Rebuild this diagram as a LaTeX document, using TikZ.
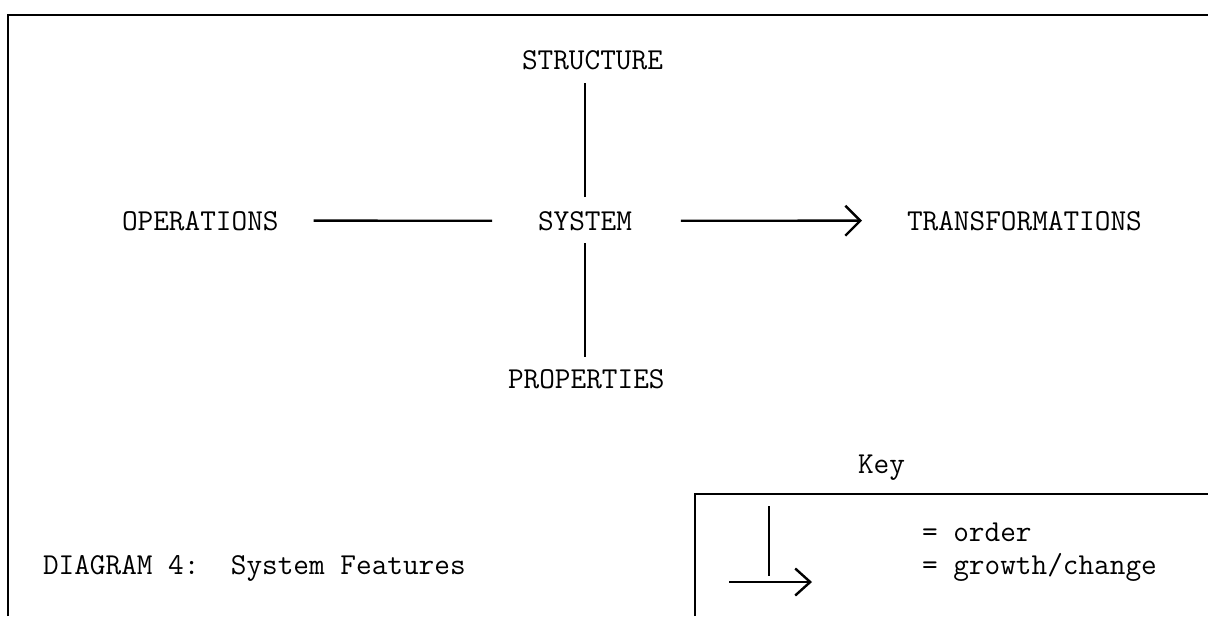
\documentclass[tikz,border=0pt]{standalone}
\usepackage{fontspec}
\usetikzlibrary{arrows.meta}
\begin{document}
\begin{tikzpicture}[x=0.5pt,y=-0.5pt,
  every node/.style={inner sep=0pt,outer sep=0pt,
    font=\ttfamily\addfontfeature{FakeBold=0.9}\fontsize{15.2}{18}\selectfont},
  label/.style={anchor=base west},
  link/.style={line width=1.2pt},
  growth/.style={line width=1.2pt,-{Straight Barb[length=7.5pt,width=15pt,line width=1.2pt]}},
  frame/.style={line width=1.4pt}]
\useasboundingbox (0,0) rectangle (1208,616);
\fill[white] (0,0) rectangle (1208,616);

% outer frame (open at right and bottom)
\coordinate (f1) at (8,616);
\coordinate (f2) at (8,15);
\coordinate (f3) at (1208,15);
\draw[frame] (f1) -- (f2) -- (f3);

% main labels
\node[label] (structure) at (522,69) {STRUCTURE};
\node[label] (system) at (538,230) {SYSTEM};
\node[label] (operations) at (122,230) {OPERATIONS};
\node[label] (transf) at (907,230) {TRANSFORMATIONS};
\node[label] (properties) at (508,388) {PROPERTIES};

% connectors
\draw[link,shorten <=7pt,shorten >=7pt] (system.north) -- (system.north |- structure.south);
\draw[link,shorten <=6.5pt,shorten >=6pt] (system.south) -- (system.south |- properties.north);
\draw[link,shorten <=17.5pt,shorten >=23pt] (operations.east) -- (system.west);
\draw[growth,shorten <=24.5pt,shorten >=22.5pt] (system.east) -- (transf.west);

% key
\node[label] (key) at (858,473) {Key};
\coordinate (k1) at (695,616);
\coordinate (k2) at (695,494);
\coordinate (k3) at (1208,494);
\draw[frame] (k1) -- (k2) -- (k3);
\coordinate (ov1) at (769,506);
\coordinate (ov2) at (769,576);
\draw[link] (ov1) -- (ov2);
\coordinate (ga1) at (729,582);
\coordinate (ga2) at (812,582);
\draw[line width=1.2pt,-{Straight Barb[length=7.5pt,width=13.5pt,line width=1.2pt]}] (ga1) -- (ga2);
\node[label] (order) at (922,541) {= order};
\node[label] (change) at (922,574) {= growth/change};

% caption
\node[label] (caption) at (43,574) {DIAGRAM 4:\ \ System Features};
\end{tikzpicture}
\end{document}
